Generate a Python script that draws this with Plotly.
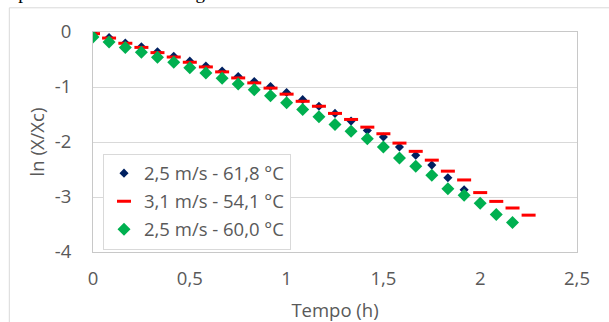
import plotly.graph_objects as go

# time (h)
tempo = [0, 0.083, 0.167, 0.25, 0.333, 0.417, 0.5, 0.583, 0.667, 0.75, 0.833, 0.917,
         1.0, 1.083, 1.167, 1.25, 1.333, 1.417, 1.5, 1.583, 1.667, 1.75, 1.833, 1.917,
         2.0, 2.083, 2.167, 2.25]

serie_a_nome = "2,5 m/s - 61,8 °C"
serie_a = [-0.02, -0.10, -0.20, -0.27, -0.36, -0.44, -0.53, -0.62, -0.71, -0.81, -0.90, -0.99,
           -1.10, -1.23, -1.35, -1.48, -1.62, -1.79, -1.91, -2.09, -2.24, -2.42, -2.65, -2.87]

serie_b_nome = "3,1 m/s - 54,1 °C"
serie_b = [-0.03, -0.11, -0.205, -0.28, -0.375, -0.455, -0.55, -0.635, -0.725, -0.835, -0.925, -1.02,
           -1.13, -1.26, -1.35, -1.48, -1.59, -1.73, -1.85, -2.02, -2.17, -2.33, -2.53, -2.69,
           -2.92, -3.08, -3.20, -3.33]

serie_c_nome = "2,5 m/s - 60,0 °C"
serie_c = [-0.09, -0.18, -0.28, -0.37, -0.46, -0.55, -0.65, -0.745, -0.84, -0.945, -1.05, -1.16,
           -1.285, -1.41, -1.54, -1.68, -1.805, -1.94, -2.09, -2.29, -2.44, -2.605, -2.85, -2.97,
           -3.115, -3.32, -3.465]

x_ticks = [0, 0.5, 1, 1.5, 2, 2.5]
x_ticktext = ["0", "0,5", "1", "1,5", "2", "2,5"]
y_ticks = [0, -1, -2, -3, -4]
y_ticktext = ["0", "-1", "-2", "-3", "-4"]

FONT = "Open Sans"
FS = 18.5
GREY = "#595959"

fig = go.Figure()
fig.add_trace(go.Scatter(x=tempo[:len(serie_a)], y=serie_a, mode="markers", name=serie_a_nome,
                         legendgroup="a",
                         marker=dict(symbol="diamond", size=7, color="#002060")))
fig.add_trace(go.Scatter(x=tempo[:len(serie_b)], y=serie_b, mode="markers", name=serie_b_nome,
                         legendgroup="b",
                         marker=dict(symbol="line-ew", size=10, color="#FF0000",
                                     line=dict(width=3, color="#FF0000"))))
fig.add_trace(go.Scatter(x=tempo[:len(serie_c)], y=serie_c, mode="markers", name=serie_c_nome,
                         legendgroup="c",
                         marker=dict(symbol="diamond", size=10, color="#00B050")))

L, R, T, B = 92.7, 32.3, 31.7, 70.3
W, H = 609, 322
pw, ph = W - L - R, H - T - B

def px2paper_x(px):
    return (px - L) / pw

def px2paper_y(py):
    return (H - B - py) / ph

fig.update_layout(
    width=W, height=H,
    margin=dict(l=L, r=R, t=T, b=B, pad=0, autoexpand=False),
    paper_bgcolor="white", plot_bgcolor="white",
    separators=", ",
    font=dict(family=FONT, size=FS, color=GREY),
    showlegend=True,
    legend=dict(x=px2paper_x(102.7), y=px2paper_y(153.3), xanchor="left", yanchor="top",
                bordercolor="#D9D9D9", borderwidth=1, bgcolor="white",
                font=dict(family=FONT, size=FS, color=GREY),
                tracegroupgap=1, traceorder="grouped"),
    xaxis=dict(range=[0, 2.5], tickvals=x_ticks, ticktext=x_ticktext, showgrid=False, zeroline=False,
               showline=True, linecolor="#C8C8C8", linewidth=1, mirror=True,
               ticks="", ticklabelstandoff=10, automargin=False,
               title=dict(text="Tempo (h)", font=dict(family=FONT, size=FS, color=GREY), standoff=18)),
    yaxis=dict(range=[-4, 0], tickvals=y_ticks, ticktext=y_ticktext, showgrid=True, gridcolor="#D9D9D9",
               gridwidth=1, zeroline=False, showline=True, linecolor="#C8C8C8", linewidth=1, mirror=True,
               ticks="", ticklabelstandoff=17, automargin=False,
               title=dict(text="ln (X/Xc)", font=dict(family=FONT, size=FS, color=GREY), standoff=5)),
    shapes=[dict(type="rect", xref="paper", yref="paper",
                 x0=px2paper_x(9), x1=px2paper_x(640), y0=px2paper_y(340), y1=px2paper_y(7.5),
                 line=dict(color="#D9D9D9", width=1), fillcolor="rgba(0,0,0,0)", layer="below")],
    annotations=[dict(text="o período de taxa de secagem decrescente.", xref="paper", yref="paper",
                      x=px2paper_x(2), y=px2paper_y(5), xanchor="left", yanchor="bottom",
                      showarrow=False,
                      font=dict(family="Liberation Serif", size=19, color="black"))],
)

fig.write_html("out.html", config={"displayModeBar": False},
               post_script="document.body.style.margin='0';document.body.style.padding='0';")
